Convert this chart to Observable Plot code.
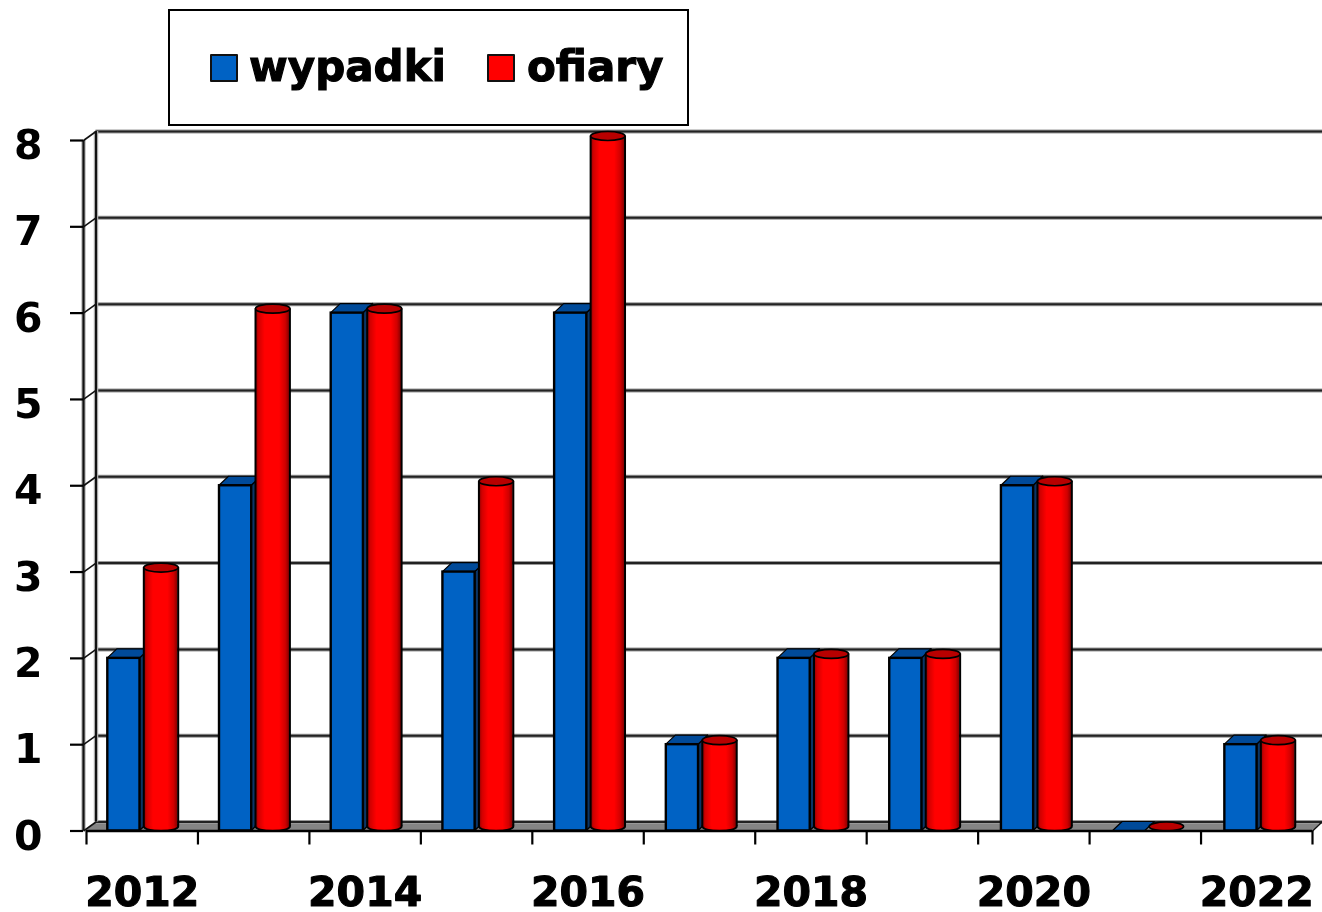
<!DOCTYPE html>
<html lang="pl">
<head>
<meta charset="utf-8">
<script src="https://cdn.jsdelivr.net/npm/d3@7"></script>
<script src="https://cdn.jsdelivr.net/npm/@observablehq/plot@0.6"></script>
<style>
html,body{margin:0;padding:0;background:#fff;width:1322px;height:912px;overflow:hidden}
#wrap{position:relative;width:1322px;height:912px;font-family:"DejaVu Sans",sans-serif;filter:blur(.55px)}
#legend{position:absolute;left:168px;top:9px;width:517px;height:113px;border:2px solid #000;background:#fff;z-index:2}
.key{position:absolute;top:43px;width:24px;height:24px;border:2px solid #111;border-radius:1px}
.lab{position:absolute;top:31px;font-size:42px;font-weight:bold;line-height:50px;color:#000;-webkit-text-stroke:1.1px #000}
</style>
</head>
<body>
<div id="wrap">
<div id="legend"></div>
<div id="chart"></div>
</div>
<script>
const years = [2012,2013,2014,2015,2016,2017,2018,2019,2020,2021,2022];
const wypadki = [2,4,6,3,6,1,2,2,4,0,1];
const ofiary = [3,6,6,4,8,1,2,2,4,0,1];
const yTicks = [0,1,2,3,4,5,6,7,8];
const xTicks = d3.range(years.length + 1);
const labelledYears = years.filter((d, i) => i % 2 === 0);
const seriesNames = ["wypadki","ofiary"];
const colors = {blue:"#0062c4", blueTop:"#004a99", blueSide:"#0b3566", red:"#ff0000", redTop:"#b80000", floor:"#858585"};

const stepX = 111.45, stepY = 86.3;        // pixels per data unit
const depthX = 9.5 / stepX, depthY = 9 / stepY;
const barStep = 111.7 / stepX;
const blueL = 21.3 / stepX, blueR = 53.5 / stepX, redL = 57.3 / stepX, redR = 91.7 / stepX;
const rows = years.map((year, i) => ({
  i, year, blue: wypadki[i], red: ofiary[i],
  bx1: i * barStep + blueL, bx2: i * barStep + blueR,
  rx1: i * barStep + redL, rx2: i * barStep + redR
}));

const ellipse = (rx, ry) => ({
  draw(c) {
    const k = 0.5523;
    c.moveTo(-rx, 0);
    c.bezierCurveTo(-rx, -k * ry, -k * rx, -ry, 0, -ry);
    c.bezierCurveTo(k * rx, -ry, rx, -k * ry, rx, 0);
    c.bezierCurveTo(rx, k * ry, k * rx, ry, 0, ry);
    c.bezierCurveTo(-k * rx, ry, -rx, k * ry, -rx, 0);
    c.closePath();
  }
});
const cyl = ellipse(17.2, 4.5);
const capDy = -4.5;

function gradient() {
  const defs = d3.create("svg:defs");
  const g = defs.append("linearGradient").attr("id", "cyl").attr("x1", 0).attr("x2", 1).attr("y1", 0).attr("y2", 0);
  [[0,"#800000"],[.1,"#d00000"],[.28,"#ff0000"],[.7,"#ff0000"],[.88,"#d00000"],[1,"#800000"]]
    .forEach(([o, c]) => g.append("stop").attr("offset", o).attr("stop-color", c));
  return defs.node();
}

const capPairs = rows.flatMap(d => [
  {k: d.i, y: d.blue, x1: d.bx1, x2: d.bx2},
  {k: d.i, y: d.blue + depthY, x1: d.bx1 + depthX, x2: d.bx2 + depthX}
]);
const sidePairs = rows.filter(d => d.blue > 0).flatMap(d => [
  {k: d.i, x: d.bx2, y1: 0, y2: d.blue},
  {k: d.i, x: d.bx2 + depthX, y1: depthY, y2: d.blue + depthY}
]);
const redBars = rows.filter(d => d.red > 0);
const blueBars = rows.filter(d => d.blue > 0);
const labelFont = {fontSize: 41, fontWeight: "bold", fill: "#000", stroke: "#000", strokeWidth: 1.1, fontFamily: "DejaVu Sans"};

const chart = Plot.plot({
  width: 1322, height: 912,
  marginLeft: 86, marginRight: 10, marginTop: 140, marginBottom: 81.5,
  style: {background: "#fff", overflow: "hidden"},
  x: {domain: [0, years.length], axis: null},
  y: {domain: [0, 8], axis: null},
  marks: [
    gradient,
    // floor
    Plot.areaX([
      {x1: 0, x2: 11, y: 0},
      {x1: depthX, x2: 11 + depthX, y: depthY}
    ], {x1: "x1", x2: "x2", y: "y", fill: colors.floor}),
    // back wall grid: soft halo, then the line itself
    Plot.ruleY(yTicks, {x1: 0, x2: 11.2, dx: 9.5, dy: -9, stroke: "#999", strokeWidth: 4}),
    Plot.ruleY(yTicks, {x1: 0, x2: 11.2, dx: 9.5, dy: -9, stroke: "#222", strokeWidth: 2}),
    Plot.ruleX([0], {y1: 0, y2: 8, dx: 9.5, dy: -9, stroke: "#bbb", strokeWidth: 4.5}),
    Plot.ruleX([0], {y1: 0, y2: 8, dx: 9.5, dy: -9, stroke: "#111", strokeWidth: 2.2}),
    // side wall
    Plot.ruleX([0], {y1: 0, y2: 8, dx: -3, stroke: "#bbb", strokeWidth: 4.5}),
    Plot.ruleX([0], {y1: 0, y2: 8, dx: -3, stroke: "#111", strokeWidth: 2.2}),
    Plot.link(yTicks, {x1: -3 / stepX, x2: depthX, y1: d => d, y2: d => d + depthY, stroke: "#111", strokeWidth: 1.6}),
    Plot.link([0], {x1: 11, x2: 11 + depthX, y1: 0, y2: depthY, stroke: "#111", strokeWidth: 1.6}),
    // blue boxes
    Plot.areaY(sidePairs, {x: "x", y1: "y1", y2: "y2", z: "k", fill: colors.blueSide, stroke: "#000", strokeWidth: 1.5}),
    Plot.areaX(capPairs, {x1: "x1", x2: "x2", y: "y", z: "k", fill: colors.blueTop, stroke: "#000", strokeWidth: 1.2}),
    Plot.rect(blueBars, {x1: "bx1", x2: "bx2", y1: 0, y2: "blue", fill: colors.blue, stroke: "#000", strokeWidth: 2.4}),
    // red cylinders
    Plot.dot(redBars, {x: d => (d.rx1 + d.rx2) / 2, y: 0, dy: capDy, symbol: cyl, fill: "url(#cyl)", stroke: "#000", strokeWidth: 2}),
    Plot.rect(redBars, {x1: "rx1", x2: "rx2", y1: 0, y2: "red", dy: capDy, fill: "url(#cyl)"}),
    Plot.ruleX(redBars, {x: "rx1", y1: 0, y2: "red", dy: capDy, stroke: "#000", strokeWidth: 2}),
    Plot.ruleX(redBars, {x: "rx2", y1: 0, y2: "red", dy: capDy, stroke: "#000", strokeWidth: 2}),
    Plot.dot(rows, {x: d => (d.rx1 + d.rx2) / 2, y: "red", dy: capDy, symbol: cyl, fill: colors.redTop, stroke: "#000", strokeWidth: 1.7}),
    // front axes
    Plot.ruleY([0], {x1: 0, x2: 11, stroke: "#000", strokeWidth: 2.4}),
    Plot.axisY({ticks: yTicks, tickSize: 13, text: null, dx: -3, label: null, stroke: "#000", strokeWidth: 2.2}),
    Plot.axisY({ticks: yTicks, tickSize: 0, tickPadding: 44, dy: 5.5, label: null, tickFormat: d => String(d), ...labelFont}),
    Plot.axisX({ticks: xTicks, tickSize: 14, text: null, label: null, stroke: "#000", strokeWidth: 2.2}),
    Plot.text(labelledYears, {x: d => years.indexOf(d) + 0.5, y: 0, dy: 62, text: d => String(d), ...labelFont})
  ]
});
document.getElementById("chart").append(chart);

const legend = d3.select("#legend");
const legendColors = [colors.blue, colors.red];
const keyLeft = [40, 317], labLeft = [79, 357];
seriesNames.forEach((name, i) => {
  legend.append("div").attr("class", "key").style("left", keyLeft[i] + "px").style("background", legendColors[i]);
  legend.append("div").attr("class", "lab").style("left", labLeft[i] + "px").text(name);
});
</script>
</body>
</html>
